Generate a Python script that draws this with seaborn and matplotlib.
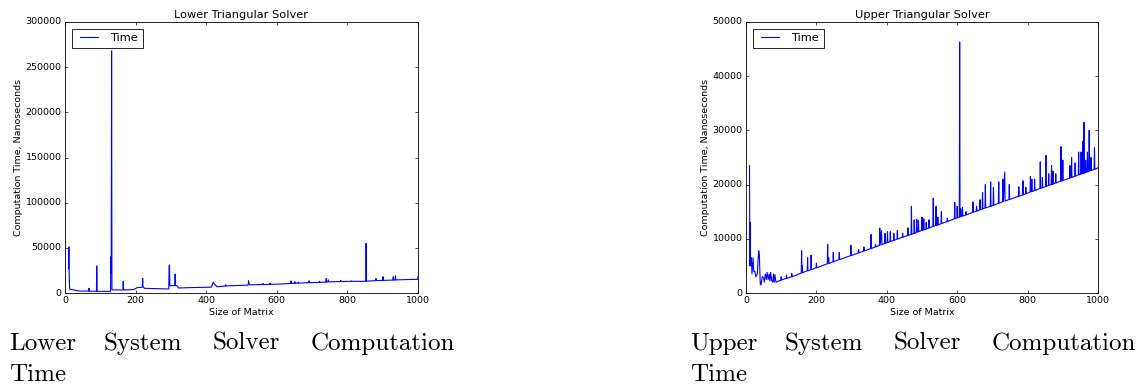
import matplotlib
matplotlib.use('Agg')
import matplotlib.pyplot as plt
import seaborn as sb

# Lower triangular solver: matrix size vs time (ns)
lower_size = [
    10, 11, 12, 13, 14, 16, 20, 30, 40, 50,
    60, 67, 68, 69, 80, 89, 90, 91, 100, 110,
    120, 129, 130, 131, 132, 133, 135, 150, 164, 165,
    166, 180, 195, 200, 205, 215, 219, 220, 221, 225,
    240, 260, 280, 294, 295, 296, 297, 300, 310, 311,
    312, 313, 318, 322, 340, 360, 380, 400, 415, 420,
    423, 426, 430, 440, 454, 455, 456, 480, 500, 519,
    520, 521, 524, 540, 560, 561, 562, 580, 581, 582,
    600, 620, 639, 640, 641, 650, 651, 652, 660, 661,
    662, 680, 690, 691, 692, 700, 720, 721, 722, 739,
    740, 741, 745, 746, 747, 760, 780, 781, 782, 800,
    810, 811, 812, 830, 852, 853, 854, 870, 880, 881,
    882, 900, 901, 902, 920, 929, 930, 931, 935, 936,
    937, 960, 980, 999, 1000,
]
lower_time = [
    27000, 51000, 18000, 6000, 4000, 3800, 3700, 3000, 2200, 2000,
    2200, 2000, 5200, 2000, 2000, 1800, 30000, 1800, 1800, 1900,
    1900, 1800, 40000, 22000, 268000, 3800, 3400, 3300, 3300, 13000,
    3400, 3500, 4000, 5000, 6000, 6200, 6500, 16000, 7000, 5200,
    5000, 4800, 4600, 4500, 30000, 31000, 8000, 8000, 8200, 8200,
    21000, 8500, 8000, 5500, 5800, 6000, 6200, 6400, 6500, 12000,
    10000, 9000, 7000, 7200, 7800, 9000, 7800, 8200, 8500, 8700,
    13500, 11000, 9000, 9200, 9300, 10500, 9300, 9600, 10800, 9600,
    9800, 10200, 10500, 13500, 10600, 10800, 12500, 10800, 10900, 12000,
    10900, 11200, 11400, 13500, 11400, 11500, 11800, 13000, 11800, 12000,
    16000, 12200, 12300, 14500, 12300, 12500, 12700, 14000, 12700, 12800,
    12900, 13500, 12900, 12900, 13000, 55000, 13100, 13500, 13700, 16000,
    13800, 13900, 18000, 14000, 14200, 14300, 18000, 14300, 14400, 19000,
    14500, 14800, 15000, 15200, 18000,
]

# Upper triangular solver
upper_size = [
    10, 11, 12, 13, 15, 17, 20, 22, 25, 28, 32, 36, 38, 40, 41, 43,
    46, 50, 52, 55, 58, 60, 63, 66, 68, 70, 73, 76, 78, 80, 82, 85,
    99, 100, 101, 114, 115, 116, 129, 130, 131,
    157, 158, 159, 160, 161, 174, 175, 176, 184, 185, 186, 199, 200, 201,
    231, 232, 233, 235, 236, 247, 248, 249, 264, 265, 266, 297, 298, 299,
    319, 320, 321, 334, 335, 336, 354, 355, 356, 367, 368, 369,
    379, 380, 381, 385, 386, 394, 395, 396, 401, 402, 403, 409, 410, 411,
    419, 420, 421, 429, 430, 431, 444, 445, 446, 459, 460, 461,
    469, 470, 471, 477, 478, 479, 484, 485, 486, 489, 490, 491,
    499, 500, 501, 504, 505, 506, 511, 512, 513, 519, 520, 521,
    531, 532, 533, 539, 540, 541, 544, 545, 546, 554, 555, 556,
    571, 572, 573, 592, 593, 594, 599, 600, 601, 606, 607, 608,
    609, 610, 611, 614, 615, 616, 624, 625, 626, 644, 645, 646,
    654, 655, 656, 664, 665, 666, 671, 672, 673, 679, 680, 681,
    694, 695, 696, 702, 703, 704, 717, 718, 719,
    729, 730, 731, 735, 736, 747, 748, 749, 774, 775, 776,
    786, 787, 788, 794, 795, 796, 807, 808, 809, 811, 812, 813,
    819, 820, 821, 835, 836, 837, 841, 842, 843, 851, 852, 853,
    859, 860, 861, 867, 868, 869, 871, 872, 873, 879, 880, 881,
    894, 895, 896, 899, 900, 901, 919, 920, 921, 924, 925, 926,
    934, 935, 936, 944, 945, 946, 951, 952, 953, 956, 957, 958,
    959, 960, 961, 964, 965, 966, 969, 970, 971, 974, 975, 976,
    979, 980, 981, 989, 990, 991, 1000,
]
upper_time = [
    23500, 5000, 13000, 5000, 6500, 3500, 6500, 4000, 4000, 3000, 3500, 7800, 7000, 2500, 1500, 1600,
    3000, 2800, 2000, 3500, 2500, 3800, 2500, 3500, 2200, 3800, 2300, 2000, 3500, 2000, 3400, 2000,
    2350, 3000, 2400, 2700, 3300, 2700, 3000, 3600, 3000,
    3700, 7800, 3700, 5000, 3750, 4100, 6500, 4100, 4300, 7000, 4300, 4650, 5500, 4650,
    5400, 9000, 5400, 6500, 5450, 5750, 7500, 5750, 6150, 7500, 6150, 6900, 8800, 6900,
    7400, 8000, 7400, 7750, 8500, 7750, 8200, 10800, 8200, 8500, 9000, 8500,
    8800, 12000, 8800, 11500, 8900, 9150, 11000, 9150, 9300, 11300, 9300, 9500, 11300, 9500,
    9700, 11000, 9700, 9950, 11500, 9950, 10300, 11000, 10300, 10600, 12000, 10600,
    10850, 16000, 10850, 11000, 13500, 11000, 11200, 13600, 11200, 11300, 13400, 11300,
    11550, 14000, 11550, 11650, 13700, 11650, 11800, 13000, 11800, 12000, 13500, 12000,
    12300, 17500, 12300, 12450, 16000, 12450, 12550, 14000, 12550, 12800, 15000, 12800,
    13200, 13800, 13200, 13700, 16700, 13700, 13850, 16000, 13850, 14000, 46300, 14000,
    14100, 15500, 14100, 14200, 15800, 14200, 14400, 15000, 14400, 14900, 16800, 14900,
    15100, 16000, 15100, 15350, 17200, 15350, 15500, 18500, 15500, 15700, 20000, 15700,
    16000, 20500, 16000, 16200, 19500, 16200, 16550, 20500, 16550,
    16850, 21000, 16850, 22300, 16950, 17250, 20000, 17250, 17850, 19600, 17850,
    18100, 20700, 18100, 18300, 19500, 18300, 18650, 21500, 18650, 18700, 21000, 18700,
    18900, 21000, 18900, 19300, 24200, 19300, 19400, 21300, 19400, 19650, 25400, 19650,
    19850, 22000, 19850, 20000, 23500, 20000, 20100, 22500, 20100, 20300, 22000, 20300,
    20650, 27000, 20650, 20750, 24500, 20750, 21200, 23500, 21200, 21300, 25000, 21300,
    21550, 24000, 21550, 21800, 26000, 21800, 21950, 26000, 21950, 22050, 28000, 22050,
    22100, 31500, 22100, 22250, 24500, 22250, 22350, 26000, 22350, 22500, 30000, 22500,
    22600, 25000, 22600, 22800, 26800, 22800, 23100,
]

lower_ticks = [0, 50000, 100000, 150000, 200000, 250000, 300000]
upper_ticks = [0, 10000, 20000, 30000, 40000, 50000]
size_ticks = [0, 200, 400, 600, 800, 1000]

plt.style.use('classic')
plt.rcParams.update({
    'font.size': 6.8,
    'axes.titlesize': 8.2,
    'axes.labelsize': 6.8,
    'xtick.labelsize': 6.8,
    'ytick.labelsize': 6.8,
    'legend.fontsize': 8.2,
    'axes.linewidth': 0.6,
    'xtick.major.size': 2.5,
    'ytick.major.size': 2.5,
    'xtick.major.width': 0.5,
    'ytick.major.width': 0.5,
    'xtick.major.pad': 2.5,
    'ytick.major.pad': 2.5,
    'axes.titlepad': 3,
    'axes.labelpad': 2,
    'figure.facecolor': 'white',
})

fig = plt.figure(figsize=(11.46, 3.9), dpi=100)
ax1 = fig.add_axes([65 / 1146, 97 / 390, 353 / 1146, 271 / 390])
ax2 = fig.add_axes([746 / 1146, 97 / 390, 352 / 1146, 271 / 390])


def draw(ax, sizes, times, title, yticks):
    sb.lineplot(x=sizes, y=times, ax=ax, color='b', lw=0.8, estimator=None, label='Time')
    ax.set_xlim(0, 1000)
    ax.set_ylim(yticks[0], yticks[-1])
    ax.set_xticks(size_ticks)
    ax.set_yticks(yticks)
    ax.set_title(title)
    ax.set_xlabel('Size of Matrix')
    ax.set_ylabel('Computation Time, Nanoseconds')
    leg = ax.legend(loc='upper left', handlelength=2.2, borderpad=0.4, borderaxespad=0.6)
    leg.get_frame().set_linewidth(0.6)


draw(ax1, lower_size, lower_time, 'Lower Triangular Solver', lower_ticks)
draw(ax2, upper_size, upper_time, 'Upper Triangular Solver', upper_ticks)

# captions under the subfigures (justified, so each word is placed)
cap = dict(family='cmr10', size=18, va='baseline', color='black')
for x0 in (9, 690):
    fig.text(x0 / 1146, 1 - 350 / 390, 'Lower' if x0 < 100 else 'Upper', **cap)
    fig.text((x0 + 95) / 1146, 1 - 350 / 390, 'System', **cap)
    fig.text((x0 + 204) / 1146, 1 - 350 / 390, 'Solver', **cap)
    fig.text((x0 + 302) / 1146, 1 - 350 / 390, 'Computation', **cap)
    fig.text(x0 / 1146, 1 - 381 / 390, 'Time', **cap)

fig.savefig('out.png', dpi=100, facecolor='white')
